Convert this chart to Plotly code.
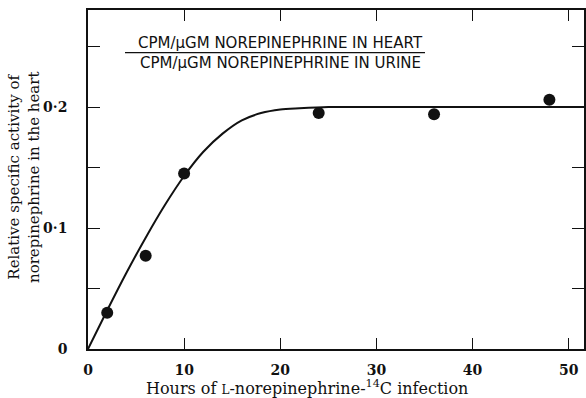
import plotly.graph_objects as go

# Observed data points
hours = [2, 6, 10, 24, 36, 48]
rel_activity = [0.030, 0.077, 0.145, 0.195, 0.194, 0.206]

# Fitted curve
curve_hours = [0, 2, 4, 6, 8, 10, 12, 14, 16, 18, 20, 22, 25, 30, 40, 50, 52]
curve_activity = [0, 0.032, 0.063, 0.092, 0.119, 0.143, 0.163, 0.178, 0.189, 0.195,
                  0.198, 0.199, 0.200, 0.200, 0.200, 0.200, 0.200]

x_tickvals = [0, 10, 20, 30, 40, 50]
x_ticktext = ["0", "10", "20", "30", "40", "50"]
y_tickvals = [0, 0.05, 0.1, 0.15, 0.2, 0.25]
y_ticktext = ["0", "", "0·1", "", "0·2", ""]

x_title = "Hours of <span style='font-size:12px'>L</span>-norepinephrine-<sup>14</sup>C infection"
y_title = "Relative specific activity of<br>norepinephrine in the heart"
ratio_top = "CPM/μGM NOREPINEPHRINE IN HEART"
ratio_bottom = "CPM/μGM NOREPINEPHRINE IN URINE"

ink = "#111111"
serif = "DejaVu Serif"
sans = "DejaVu Sans"

fig = go.Figure()
fig.add_trace(go.Scatter(x=curve_hours, y=curve_activity, mode="lines",
                         line=dict(color=ink, width=2, shape="spline", smoothing=0.8),
                         hoverinfo="skip", showlegend=False))
fig.add_trace(go.Scatter(x=hours, y=rel_activity, mode="markers",
                         marker=dict(color=ink, size=12), showlegend=False))

fig.update_layout(
    width=586, height=398,
    margin=dict(l=88, r=2, t=10, b=49),
    paper_bgcolor="white", plot_bgcolor="white",
    font=dict(family=serif, color=ink, size=14),
    xaxis=dict(range=[0, 51.6], showgrid=False, zeroline=False, automargin=False,
               showline=True, linecolor=ink, linewidth=1.5, mirror="allticks",
               ticks="inside", ticklen=11, tickwidth=1.3, tickcolor=ink,
               tickvals=x_tickvals, ticktext=x_ticktext,
               tickfont=dict(family=serif, size=14, weight="bold"),
               ticklabelstandoff=7),
    yaxis=dict(range=[0, 0.2802], showgrid=False, zeroline=False, automargin=False,
               showline=True, linecolor=ink, linewidth=1.5, mirror="allticks",
               ticks="inside", ticklen=12, tickwidth=1.3, tickcolor=ink,
               tickvals=y_tickvals, ticktext=y_ticktext,
               tickfont=dict(family=serif, size=14, weight="bold"),
               ticklabelstandoff=16),
)

# Axis titles
fig.add_annotation(xref="paper", yref="paper", x=(307 - 88) / 496, y=(349 - 387) / 339,
                   text=x_title, showarrow=False,
                   font=dict(family=serif, size=16, color=ink), xanchor="center", yanchor="middle")
fig.add_annotation(xref="paper", yref="paper", x=(24 - 88) / 496, y=(349 - 178) / 339,
                   text=y_title, showarrow=False, textangle=-90,
                   font=dict(family=serif, size=15, color=ink), xanchor="center", yanchor="middle")

# Ratio label
fig.add_annotation(xref="paper", yref="paper", x=(280.5 - 88) / 496, y=(349 - 43) / 339,
                   text=ratio_top, showarrow=False,
                   font=dict(family=sans, size=15, color=ink), xanchor="center", yanchor="middle")
fig.add_annotation(xref="paper", yref="paper", x=(280.5 - 88) / 496, y=(349 - 63) / 339,
                   text=ratio_bottom, showarrow=False,
                   font=dict(family=sans, size=15, color=ink), xanchor="center", yanchor="middle")
fig.add_shape(type="line", xref="paper", yref="paper",
              x0=(125 - 88) / 496, x1=(425 - 88) / 496,
              y0=(349 - 52.7) / 339, y1=(349 - 52.7) / 339,
              line=dict(color=ink, width=1.3))

fig.write_html("out.html", config={"displayModeBar": False},
               post_script="document.body.style.margin='0';")
